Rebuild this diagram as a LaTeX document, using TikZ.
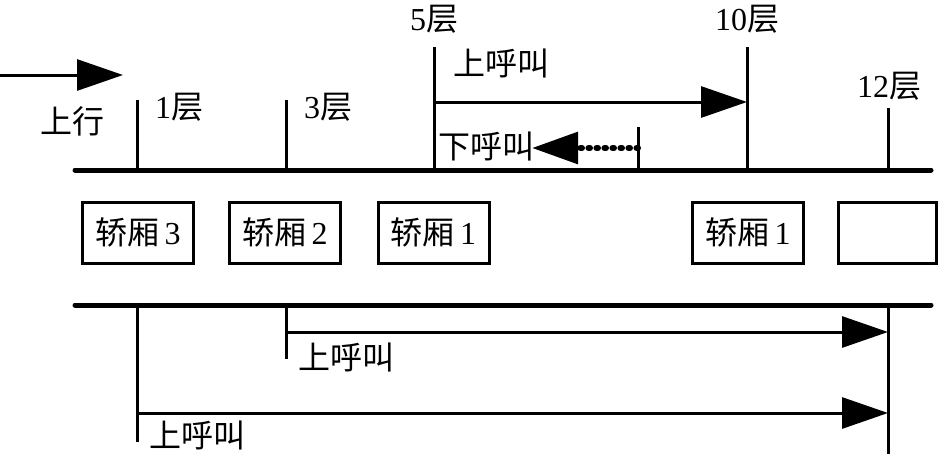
\documentclass[tikz,border=0pt]{standalone}
\usepackage{fontspec}
\setmainfont{Liberation Serif}
\newfontfamily\cjk{Noto Sans CJK SC}
\usetikzlibrary{arrows.meta}

\tikzset{
  rail/.style={line width=5pt, line cap=round},
  tick/.style={line width=3pt},
  callarrow/.style={line width=3pt, -{Triangle[length=46pt,width=31pt]}},
  car/.style={draw, line width=3pt, minimum height=61pt, inner sep=0pt, font=\fontsize{32}{38}\selectfont},
  lbl/.style={inner sep=0pt, font=\fontsize{32}{38}\selectfont}
}

\begin{document}
\begin{tikzpicture}[x=1pt, y=-1pt]
    \useasboundingbox (0,0) rectangle (938,456);

    % Richtung
    \coordinate (dirA) at (0,75);
    \coordinate (dirB) at (123,75);
    \draw[callarrow] (dirA) -- (dirB);
    \node[lbl] (up) at (72,121) {\cjk 上行};

    % Schiene oben
    \coordinate (railAL) at (75,170);
    \coordinate (railAR) at (931,170);
    \draw[rail] (railAL) -- (railAR);

    % Stockwerke
    \coordinate (f1) at (137,170);   \coordinate (f1t) at (137,100);
    \coordinate (f3) at (286,170);   \coordinate (f3t) at (286,100);
    \coordinate (f5) at (434,170);   \coordinate (f5t) at (434,47);
    \coordinate (f10) at (747,170);  \coordinate (f10t) at (747,47);
    \coordinate (f12) at (888,170);  \coordinate (f12t) at (888,108);
    \draw[tick] (f1) -- (f1t);
    \draw[tick] (f3) -- (f3t);
    \draw[tick] (f5) -- (f5t);
    \draw[tick] (f10) -- (f10t);
    \draw[tick] (f12) -- (f12t);
    \node[lbl] (l1) at (179,107) {1{\cjk 层}};
    \node[lbl] (l3) at (328,107) {3{\cjk 层}};
    \node[lbl] (l5) at (434,19) {5{\cjk 层}};
    \node[lbl] (l10) at (747,19) {10{\cjk 层}};
    \node[lbl] (l12) at (889,86) {12{\cjk 层}};

    % Aufruf oben
    \coordinate (upA) at (434,102);
    \coordinate (upB) at (747,102);
    \draw[callarrow] (upA) -- (upB);
    \node[lbl] (upcall) at (501,63) {\cjk 上呼叫};

    % Aufruf nach unten
    \coordinate (dnT) at (638,127);
    \coordinate (dnB) at (638,170);
    \coordinate (dnA) at (638,148);
    \coordinate (dnE) at (532,148);
    \draw[tick] (dnT) -- (dnB);
    \draw[line width=6pt, line cap=round, dash pattern=on 1.5pt off 6.5pt,
          -{Triangle[length=46pt,width=31pt]}] (dnA) -- (dnE);
    \node[lbl] (dncall) at (486,146) {\cjk 下呼叫};

    % Kabinen
    \node[car, minimum width=111pt] (car3) at (138,232.5) {{\cjk 轿厢}\,3};
    \node[car, minimum width=111pt] (car2) at (285,232.5) {{\cjk 轿厢}\,2};
    \node[car, minimum width=111pt] (car1) at (433.5,232.5) {{\cjk 轿厢}\,1};
    \node[car, minimum width=111pt] (car1b) at (748,232.5) {{\cjk 轿厢}\,1};
    \node[car, minimum width=98pt] (empty) at (887,232.5) {};

    % Schiene unten
    \coordinate (railBL) at (75,305);
    \coordinate (railBR) at (931,305);
    \draw[rail] (railBL) -- (railBR);

    % Aufrufe unten
    \coordinate (b1) at (137,305);   \coordinate (b1e) at (137,442);
    \coordinate (b3) at (286,305);   \coordinate (b3e) at (286,359);
    \coordinate (b12) at (888,305);  \coordinate (b12e) at (888,454);
    \draw[tick] (b1) -- (b1e);
    \draw[tick] (b3) -- (b3e);
    \draw[tick] (b12) -- (b12e);
    \coordinate (c3A) at (286,332);  \coordinate (c3B) at (888,332);
    \coordinate (c1A) at (137,413);  \coordinate (c1B) at (888,413);
    \draw[callarrow] (c3A) -- (c3B);
    \draw[callarrow] (c1A) -- (c1B);
    \node[lbl] (call3) at (346,357) {\cjk 上呼叫};
    \node[lbl] (call1) at (197,435) {\cjk 上呼叫};
\end{tikzpicture}
\end{document}
